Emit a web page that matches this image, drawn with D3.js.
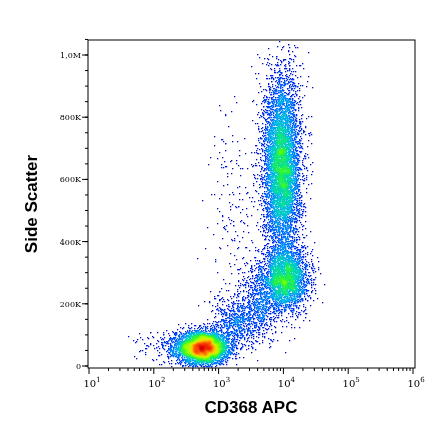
<!DOCTYPE html>
<html><head><meta charset="utf-8">
<script src="https://cdn.jsdelivr.net/npm/d3@7"></script>
<style>body{margin:0;background:#fff}#wrap{position:relative;width:440px;height:441px}canvas,svg{position:absolute;left:0;top:0}</style>
</head><body><div id="wrap"><canvas id="c" width="440" height="441"></canvas><svg id="s" width="440" height="441"></svg></div>
<script>
// populations: centre (log10 x, y), spread, count
const popName = ["low", "upper", "lower", "bridge1", "bridge2", "sparse", "tail"];
const popLx   = [2.75, 3.97, 4.03, 3.3, 3.65, 3.2, 2.35];
const popY    = [60000, 640000, 280000, 140000, 220000, 520000, 70000];
const popSx   = [0.2, 0.145, 0.18, 0.22, 0.18, 0.2, 0.3];
const popSy   = [26000, 150000, 50000, 40000, 50000, 170000, 25000];
const popN    = [4200, 6200, 2600, 700, 700, 160, 250];
const xTicks = [1, 2, 3, 4, 5, 6];
const yTicks = [0, 200000, 400000, 600000, 800000, 1000000];
const yLabels = ["0", "200K", "400K", "600K", "800K", "1,0M"];

const L = 88, R = 415, T = 40, B = 368;
const x = d3.scaleLog().domain([10, 1e6]).range([89, 413]);
const y = d3.scaleLinear().domain([0, 1000000]).range([366, 55]);

// seeded normal generator
let seed = 12345;
const rnd = () => (seed = (seed * 1664525 + 1013904223) % 4294967296) / 4294967296;
const norm = () => Math.sqrt(-2 * Math.log(rnd() + 1e-9)) * Math.cos(2 * Math.PI * rnd());

const pts = [];
popN.forEach((n, i) => {
  for (let k = 0; k < n; k++) {
    const lx = popLx[i] + popSx[i] * norm();
    const yy = popY[i] + popSy[i] * norm();
    const px = Math.round(x(Math.pow(10, lx))), py = Math.round(y(yy));
    if (px > L && px < R && py > T && py < B - 1) pts.push([px, py]);
  }
});

// density per pixel with small smoothing
const W = 440, H = 441, grid = new Float32Array(W * H);
pts.forEach(([px, py]) => {
  for (let dx = -3; dx <= 3; dx++) for (let dy = -3; dy <= 3; dy++) {
    const w = Math.exp(-(dx * dx + dy * dy) / 6);
    const gx = px + dx, gy = py + dy;
    if (gx >= 0 && gx < W && gy >= 0 && gy < H) grid[gy * W + gx] += w;
  }
});
const maxD = d3.max(pts, p => grid[p[1] * W + p[0]]);
const color = d3.interpolateRgbBasis(["#0000b0", "#0030ff", "#00b0ff", "#00e0a0", "#40ff00", "#e0ff00", "#ffb000", "#ff3000", "#d00000"]);
pts.sort((a, b) => grid[a[1] * W + a[0]] - grid[b[1] * W + b[0]]);
const ctx = document.getElementById("c").getContext("2d");
pts.forEach(([px, py]) => {
  const t = Math.pow(grid[py * W + px] / maxD, 0.75);
  ctx.fillStyle = color(t);
  ctx.fillRect(px, py, 1.3, 1.3);
});

const svg = d3.select("#s");
svg.append("rect").attr("x", L).attr("y", T).attr("width", R - L).attr("height", B - T)
  .attr("fill", "none").attr("stroke", "#000").attr("stroke-width", 1);

// x axis
const xa = svg.append("g").attr("transform", `translate(0,${B})`);
const minor = [];
for (let d = 1; d < 6; d++) for (let m = 2; m < 10; m++) minor.push(m * Math.pow(10, d));
xa.selectAll(".mn").data(minor).join("line").attr("x1", d => x(d)).attr("x2", d => x(d))
  .attr("y1", 0).attr("y2", 3).attr("stroke", "#000");
xa.selectAll(".mj").data(xTicks).join("line").attr("x1", d => x(Math.pow(10, d))).attr("x2", d => x(Math.pow(10, d)))
  .attr("y1", 0).attr("y2", 6).attr("stroke", "#000");
const xt = xa.selectAll(".lb").data(xTicks).join("text").attr("x", d => x(Math.pow(10, d)) + 3).attr("y", 19)
  .attr("text-anchor", "middle").attr("font-family", "DejaVu Serif").attr("font-size", 10);
xt.append("tspan").text("10");
xt.append("tspan").attr("dy", -5).attr("font-size", 7).text(d => d);

// y axis
const ya = svg.append("g").attr("transform", `translate(${L},0)`);
ya.selectAll(".mn").data(d3.range(0, 1050001, 50000)).join("line").attr("y1", d => y(d)).attr("y2", d => y(d))
  .attr("x1", 0).attr("x2", -3).attr("stroke", "#000");
ya.selectAll(".mj").data(yTicks).join("line").attr("y1", d => y(d)).attr("y2", d => y(d))
  .attr("x1", 0).attr("x2", -6).attr("stroke", "#000");
ya.selectAll(".lb").data(yTicks).join("text").attr("x", -7).attr("y", d => y(d) + 3)
  .attr("text-anchor", "end").attr("font-family", "DejaVu Serif").attr("font-size", 8).text((d, i) => yLabels[i]);

svg.append("text").attr("x", 251).attr("y", 413).attr("text-anchor", "middle")
  .attr("font-family", "Liberation Sans").attr("font-weight", "bold").attr("font-size", 17).text("CD368 APC");
svg.append("text").attr("transform", "translate(37,204) rotate(-90)").attr("text-anchor", "middle")
  .attr("font-family", "Liberation Sans").attr("font-weight", "bold").attr("font-size", 17).text("Side Scatter");
</script></body></html>
